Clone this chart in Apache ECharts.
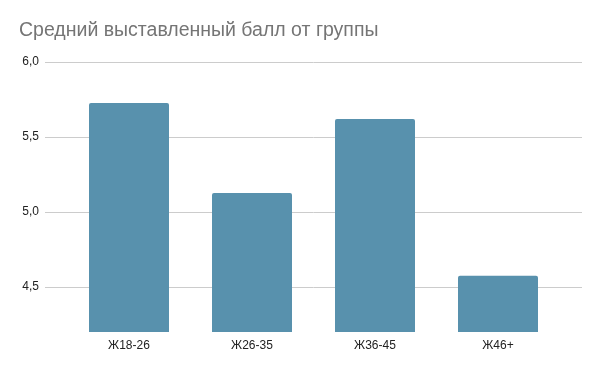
<!DOCTYPE html>
<html>
<head>
<meta charset="utf-8">
<script src="https://cdn.jsdelivr.net/npm/echarts@6/dist/echarts.min.js"></script>
<style>html,body{margin:0;padding:0;background:#fff}#c{width:600px;height:371px}</style>
</head>
<body>
<div id="c"></div>
<script>
const chartTitle = 'Средний выставленный балл от группы';
const categories = ['Ж18-26', 'Ж26-35', 'Ж36-45', 'Ж46+'];
const values = [5.727, 5.127, 5.62, 4.575];
const yMin = 4.2, yMax = 6.0, yTickStep = 0.5;

const chart = echarts.init(document.getElementById('c'), null, {renderer: 'canvas'});
const font = '"Liberation Sans", Arial, sans-serif';
chart.setOption({
  animation: false,
  backgroundColor: '#fff',
  title: {
    text: chartTitle, left: 19, top: 21, padding: 0,
    textStyle: {fontFamily: font, fontSize: 19.5, fontWeight: 'normal', color: '#757575'}
  },
  grid: [
    {left: 45, right: 18, top: 62, bottom: 9, containLabel: false},
    {left: 67.5, right: 40.5, top: 62, bottom: 39, containLabel: false}
  ],
  xAxis: [
    {gridIndex: 0, type: 'category', data: categories, show: false},
    {gridIndex: 1, type: 'category', data: categories,
     axisLine: {show: false}, axisTick: {show: false},
     axisLabel: {fontFamily: font, fontSize: 12, color: '#222', margin: 8}}
  ],
  yAxis: [
    {gridIndex: 0, type: 'value', min: 4.0, max: yMax, interval: yTickStep,
     axisLine: {show: false}, axisTick: {show: false},
     splitLine: {show: true, showMinLine: false, lineStyle: {color: '#cccccc', width: 1}},
     axisLabel: {showMinLabel: false, fontFamily: font, fontSize: 12, color: '#222', margin: 6,
       formatter: v => v.toFixed(1).replace('.', ',')}},
    {gridIndex: 1, type: 'value', min: yMin, max: yMax, show: false, splitLine: {show: false}}
  ],
  series: [{
    type: 'bar', xAxisIndex: 1, yAxisIndex: 1, data: values, barWidth: 80,
    itemStyle: {color: '#5891ad', borderRadius: [2, 2, 0, 0]}
  }]
});
</script>
</body>
</html>
